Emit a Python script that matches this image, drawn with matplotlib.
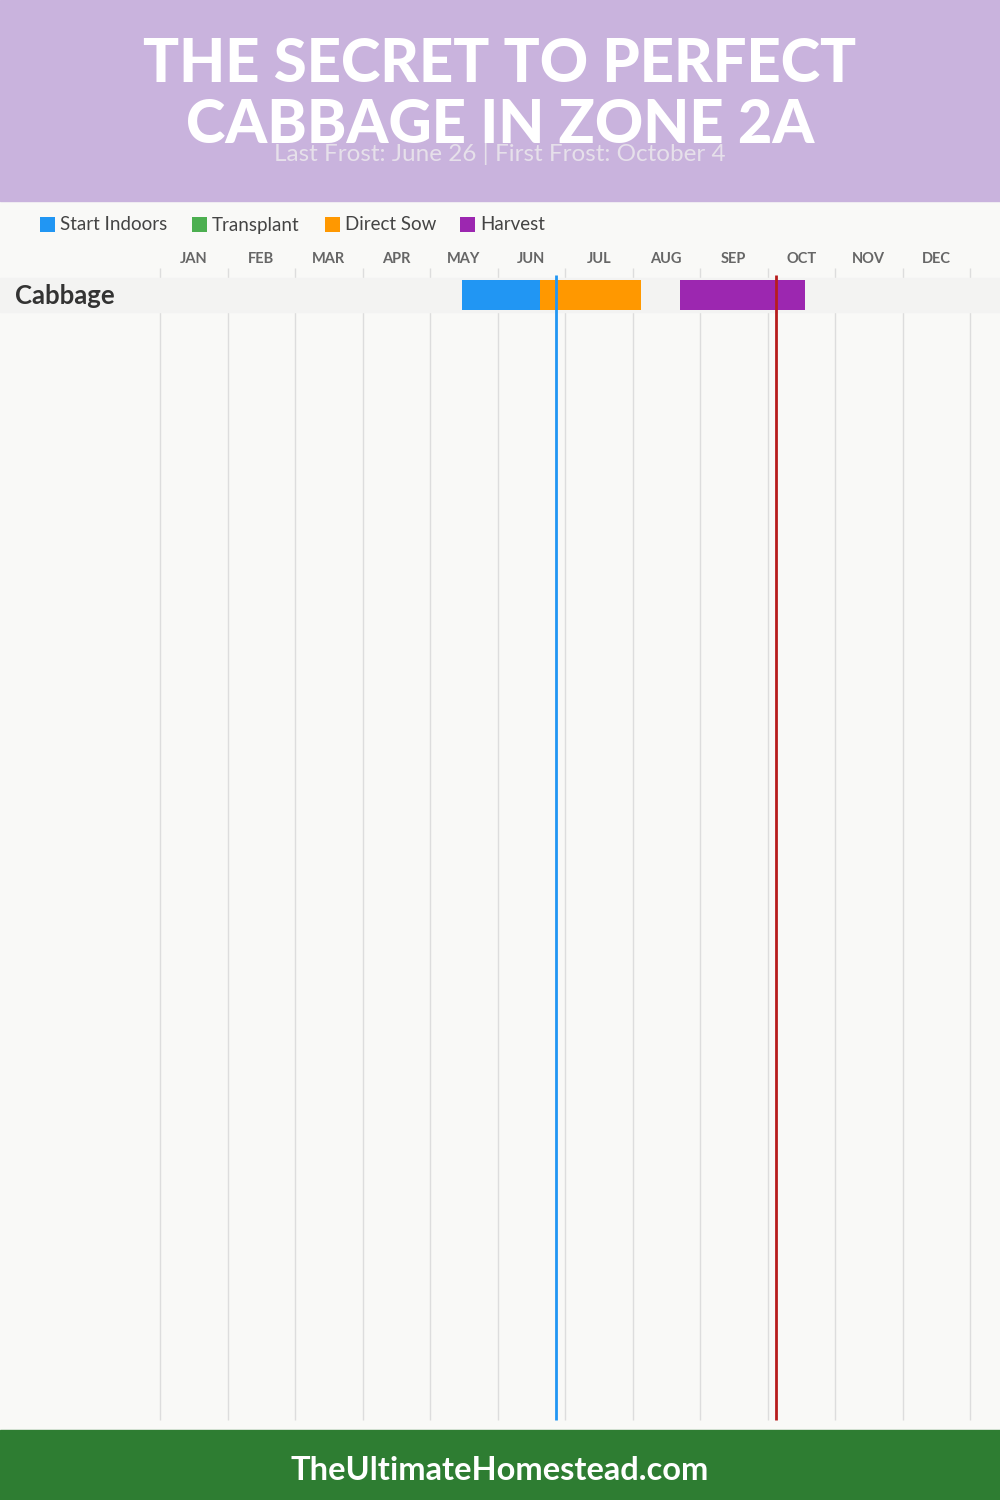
import matplotlib
matplotlib.use("Agg")
import matplotlib.pyplot as plt

'''DATA'''
months = ['JAN', 'FEB', 'MAR', 'APR', 'MAY', 'JUN',
          'JUL', 'AUG', 'SEP', 'OCT', 'NOV', 'DEC']
crops = ['Cabbage']
# phases as (start, end) in months from Jan 1
phase_names = ['Start Indoors', 'Transplant', 'Direct Sow', 'Harvest']
phase_colors = ['#2196f3', '#4caf50', '#ff9800', '#9c27b0']
cabbage_phases = {
    'Start Indoors': (4.47, 5.63),
    'Direct Sow': (5.63, 7.13),
    'Harvest': (7.70, 9.56),
}
last_frost = 5 + 26 / 30     # June 26
first_frost = 9 + 4 / 31     # October 4
title_lines = ['THE SECRET TO PERFECT', 'CABBAGE IN ZONE 2A']
subtitle = 'Last Frost: June 26 | First Frost: October 4'
footer = 'TheUltimateHomestead.com'

plt.rcParams['font.family'] = ['Lato', 'DejaVu Sans']

PX = 67.5  # pixels per month
fig = plt.figure(figsize=(10, 15), dpi=100)
fig.patch.set_facecolor('#f9f9f7')
ax = fig.add_axes([0, 0, 1, 1])
ax.set_facecolor('#f9f9f7')
# x in months, month 0 at 160px; y in pixels
ax.set_xlim(-160 / PX, 840 / PX)
ax.set_ylim(1500, 0)
ax.axis('off')
xc = (500 - 160) / PX

'''HEADER / FOOTER'''
ax.axhspan(0, 201, color='#c9b3dd', zorder=0)
ax.axhspan(1430, 1500, color='#2e7d32', zorder=0)
ax.text(xc, 64, title_lines[0], ha='center', va='center',
        fontsize=43, fontweight='black', color='white', zorder=5)
ax.text(xc, 125, title_lines[1], ha='center', va='center',
        fontsize=43, fontweight='black', color='white', zorder=5)
ax.text(xc, 154, subtitle, ha='center', va='center',
        fontsize=17.5, color='#e6e0ea', zorder=4)
ax.text(xc, 1471, footer, ha='center', va='center',
        fontsize=23.5, fontweight='bold', color='white')

'''LEGEND'''
leg_x = [40, 192, 325, 460]
for px, name, col in zip(leg_x, phase_names, phase_colors):
    x0 = (px - 160) / PX
    ax.add_patch(plt.Rectangle((x0, 217), 15 / PX, 15, color=col, lw=0))
    ax.text(x0 + 20 / PX, 225, name, va='center', ha='left',
            fontsize=13.5, color='#444444')

'''MONTHS + GRID'''
for i, m in enumerate(months):
    ax.text(i + 0.5, 259, m, ha='center', va='center', fontsize=10.5,
            fontweight='bold', color='#666666')
ax.vlines(range(13), 268, 1420, color='#dddddd', lw=1, zorder=1)

'''ROWS'''
for r, crop in enumerate(crops):
    yc = 295 + r * 36
    ax.axhspan(yc - 17, yc + 17, color='#f3f3f2', zorder=1.5)
    ax.text((15 - 160) / PX, yc + 1, crop, ha='left', va='center',
            fontsize=18.5, fontweight='bold', color='#333333', zorder=5)
    for name, col in zip(phase_names, phase_colors):
        if name in cabbage_phases:
            s, e = cabbage_phases[name]
            ax.barh(yc, e - s, left=s, height=30, color=col, zorder=3)

'''FROST LINES'''
ax.vlines(last_frost, 275, 1420, color='#2196f3', lw=2, zorder=4)
ax.vlines(first_frost, 275, 1420, color='#b71c1c', lw=2, zorder=4)

fig.savefig('out.png', dpi=100, facecolor=fig.get_facecolor())
